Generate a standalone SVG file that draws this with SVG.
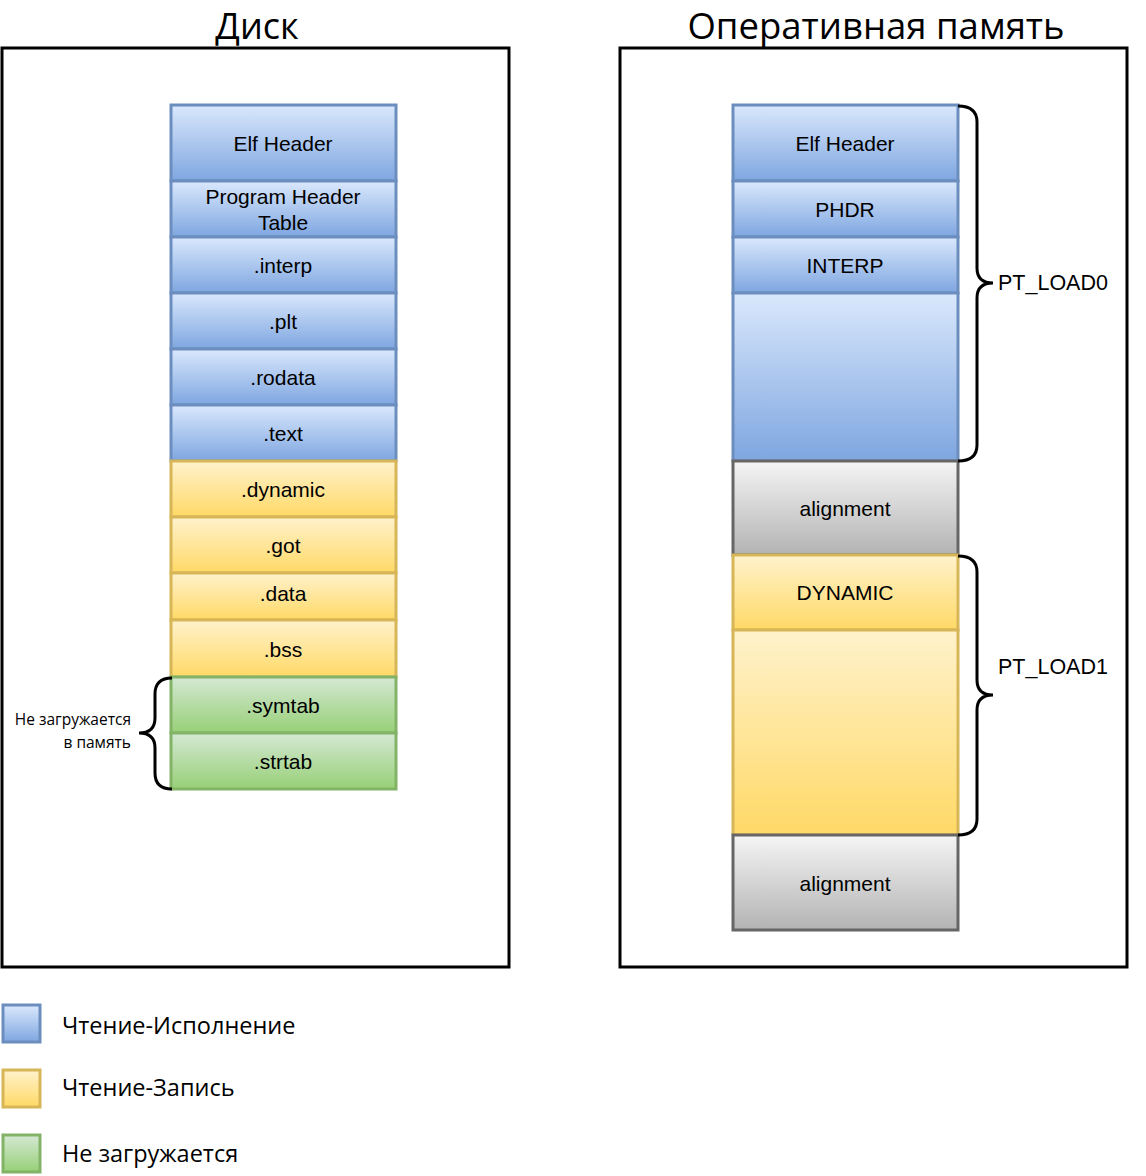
<svg xmlns="http://www.w3.org/2000/svg" width="1146" height="1176" viewBox="0 0 1146 1176">
<defs>
<linearGradient id="gb" x1="0" y1="0" x2="0" y2="1"><stop offset="0" stop-color="#dae8fc"/><stop offset="1" stop-color="#7ea6e0"/></linearGradient>
<linearGradient id="gy" x1="0" y1="0" x2="0" y2="1"><stop offset="0" stop-color="#fff2cc"/><stop offset="1" stop-color="#ffd966"/></linearGradient>
<linearGradient id="gg" x1="0" y1="0" x2="0" y2="1"><stop offset="0" stop-color="#d5e8d4"/><stop offset="1" stop-color="#97d077"/></linearGradient>
<linearGradient id="gs" x1="0" y1="0" x2="0" y2="1"><stop offset="0" stop-color="#f5f5f5"/><stop offset="1" stop-color="#b3b3b3"/></linearGradient>
</defs>
<style>
.b{fill:url(#gb);stroke:#6c8ebf;stroke-width:3}
.y{fill:url(#gy);stroke:#d6b656;stroke-width:3}
.g{fill:url(#gg);stroke:#82b366;stroke-width:3}
.s{fill:url(#gs);stroke:#666666;stroke-width:3}
.t{font-family:"Liberation Sans",Arial,sans-serif;font-size:21px;fill:#000;text-anchor:middle;dominant-baseline:central}
.ru{font-family:"Open Sans","Noto Sans",sans-serif;fill:#000}
.box{fill:#fff;stroke:#000;stroke-width:3}
.br{fill:none;stroke:#000;stroke-width:3}
</style>
<rect width="1146" height="1176" fill="#fff"/>
<g id="disk">
<text class="ru" x="257" y="38.5" font-size="36" text-anchor="middle">Диск</text>
<rect class="box" x="2" y="48" width="507" height="919"/>
</g>
<g id="ram">
<text class="ru" x="876" y="38.5" font-size="36.5" text-anchor="middle">Оперативная память</text>
<rect class="box" x="620" y="48" width="507" height="919"/>
</g>
<g id="disk-sections">
<g id="d-elf"><rect class="b" x="171" y="105" width="225" height="76"/><text class="t" x="283" y="143">Elf Header</text></g>
<g id="d-pht"><rect class="b" x="171" y="181" width="225" height="56"/><text class="t" x="283" y="196">Program Header</text><text class="t" x="283" y="222">Table</text></g>
<g id="d-interp"><rect class="b" x="171" y="237" width="225" height="56"/><text class="t" x="283" y="265">.interp</text></g>
<g id="d-plt"><rect class="b" x="171" y="293" width="225" height="56"/><text class="t" x="283" y="321">.plt</text></g>
<g id="d-rodata"><rect class="b" x="171" y="349" width="225" height="56"/><text class="t" x="283" y="377">.rodata</text></g>
<g id="d-text"><rect class="b" x="171" y="405" width="225" height="56"/><text class="t" x="283" y="433">.text</text></g>
<g id="d-dynamic"><rect class="y" x="171" y="461" width="225" height="56"/><text class="t" x="283" y="489">.dynamic</text></g>
<g id="d-got"><rect class="y" x="171" y="517" width="225" height="56"/><text class="t" x="283" y="545">.got</text></g>
<g id="d-data"><rect class="y" x="171" y="573" width="225" height="47"/><text class="t" x="283" y="593">.data</text></g>
<g id="d-bss"><rect class="y" x="171" y="620" width="225" height="57"/><text class="t" x="283" y="649">.bss</text></g>
<g id="d-symtab"><rect class="g" x="171" y="677" width="225" height="56"/><text class="t" x="283" y="705">.symtab</text></g>
<g id="d-strtab"><rect class="g" x="171" y="733" width="225" height="56"/><text class="t" x="283" y="761">.strtab</text></g>
</g>
<g id="ram-segments">
<g id="r-elf"><rect class="b" x="733" y="105" width="225" height="76"/><text class="t" x="845" y="143">Elf Header</text></g>
<g id="r-phdr"><rect class="b" x="733" y="181" width="225" height="56"/><text class="t" x="845" y="209">PHDR</text></g>
<g id="r-interp"><rect class="b" x="733" y="237" width="225" height="56"/><text class="t" x="845" y="265">INTERP</text></g>
<g id="r-load0"><rect class="b" x="733" y="293" width="225" height="168"/></g>
<g id="r-align1"><rect class="s" x="733" y="461" width="225" height="94"/><text class="t" x="845" y="508">alignment</text></g>
<g id="r-dynamic"><rect class="y" x="733" y="555" width="225" height="75"/><text class="t" x="845" y="592">DYNAMIC</text></g>
<g id="r-load1"><rect class="y" x="733" y="630" width="225" height="205"/></g>
<g id="r-align2"><rect class="s" x="733" y="835" width="225" height="95"/><text class="t" x="845" y="883">alignment</text></g>
</g>
<g id="braces">
<path class="br" d="M958 106 Q977 106 977 122 L977 268 Q977 283 993 283 Q977 283 977 298 L977 445 Q977 461 958 461"/>
<path class="br" d="M958 556 Q977 556 977 572 L977 680 Q977 695 993 695 Q977 695 977 710 L977 819 Q977 835 958 835"/>
<path class="br" d="M172 678 Q155 678 155 694 L155 718 Q155 733 139 733 Q155 733 155 748 L155 773 Q155 789 172 789"/>
</g>
<g id="labels">
<text x="998" y="283" font-family="'Liberation Sans',Arial,sans-serif" font-size="21.5" dominant-baseline="central">PT_LOAD0</text>
<text x="998" y="667" font-family="'Liberation Sans',Arial,sans-serif" font-size="21.5" dominant-baseline="central">PT_LOAD1</text>
<text class="ru" x="131" y="719" font-size="15.5" text-anchor="end" dominant-baseline="central">Не загружается</text>
<text class="ru" x="131" y="742" font-size="15.5" text-anchor="end" dominant-baseline="central">в память</text>
</g>
<g id="legend">
<g id="lg-rx"><rect class="b" x="3" y="1005" width="37" height="37"/><text class="ru" x="62" y="1025" font-size="23.5" dominant-baseline="central">Чтение-Исполнение</text></g>
<g id="lg-rw"><rect class="y" x="3" y="1070" width="37" height="37"/><text class="ru" x="62" y="1087" font-size="23.5" dominant-baseline="central">Чтение-Запись</text></g>
<g id="lg-nl"><rect class="g" x="3" y="1135" width="37" height="37"/><text class="ru" x="62" y="1153" font-size="23.5" dominant-baseline="central">Не загружается</text></g>
</g>
</svg>
